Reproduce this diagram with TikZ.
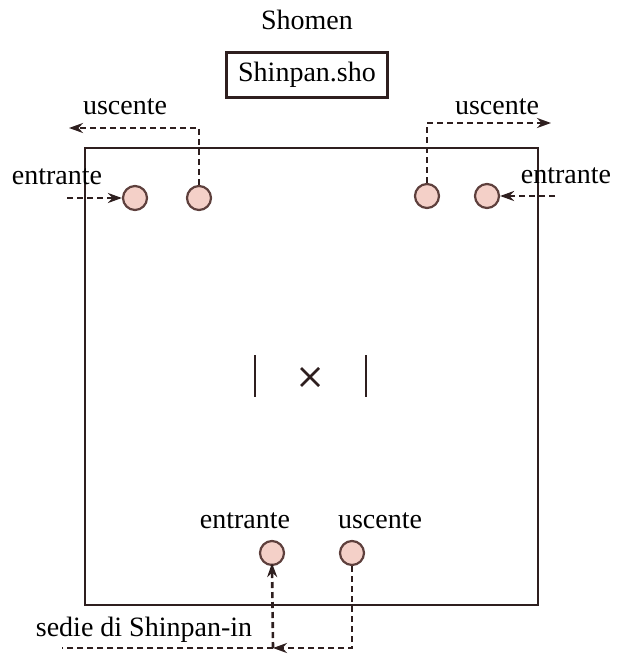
\documentclass[tikz,border=0pt]{standalone}
\usepackage{fontspec}
\setmainfont{Liberation Serif}
\usetikzlibrary{arrows.meta}
\definecolor{ink}{HTML}{2E1F1F}
\definecolor{seatfill}{HTML}{F4D0C8}
\definecolor{seatline}{HTML}{5E403D}
\begin{document}
\begin{tikzpicture}[x=1pt,y=-1pt,
  lbl/.style={font=\fontsize{28}{30}\selectfont, text=black, inner sep=0pt},
  seat/.style={circle, draw=seatline, fill=seatfill, line width=2.2pt, minimum size=24pt, inner sep=0pt},
  route/.style={dashed, dash pattern=on 6pt off 4pt, line width=2.6pt, draw=ink},
  routearrow/.style={route, -{Stealth[length=14pt,width=10pt]}},
  courtbox/.style={draw=ink, line width=2.6pt, minimum width=453pt, minimum height=457pt, inner sep=0pt},
  centremark/.style={draw=ink, line width=2.8pt}]
\useasboundingbox (0,0) rectangle (624,660);

% heading and referee chair
\node[lbl] (shomen) at (307,20) {Shomen};
\node[lbl, draw=ink, line width=2.6pt, minimum width=161pt, minimum height=45pt] (sho) at (307,75) {Shinpan.sho};

% court
\node[courtbox] (court) at (311.5,376.5) {};

% centre marks
\draw[centremark] (255,355) -- (255,397);
\draw[centremark] (366,355) -- (366,397);
\draw[centremark] (301,368) -- (319,386);
\draw[centremark] (301,386) -- (319,368);

% seats
\node[seat] (s1) at (135,198) {};
\node[seat] (s2) at (199,198) {};
\node[seat] (s3) at (427,196) {};
\node[seat] (s4) at (487,196) {};
\node[seat] (s5) at (272,553) {};
\node[seat] (s6) at (352,553) {};

% labels
\node[lbl] (lu) at (125,107) {uscente};
\node[lbl] (ru) at (497,107) {uscente};
\node[lbl] (le) at (57,177) {entrante};
\node[lbl] (re) at (566,176) {entrante};
\node[lbl] (be) at (245,521) {entrante};
\node[lbl] (bu) at (380,521) {uscente};
\node[lbl] (sedie) at (144,630) {sedie di Shinpan-in};

% path end points
\coordinate (luEnd) at (69,128);
\coordinate (ruEnd) at (551,123);
\coordinate (leStart) at (67,198);
\coordinate (reStart) at (555,196);
\coordinate (bJoin) at (273,648);
\coordinate (bEnd) at (62,648);

% upper paths
\draw[routearrow] (s2.north) |- (luEnd);
\draw[routearrow] (s3.north) |- (ruEnd);
\draw[routearrow] (leStart) -- (s1.west);
\draw[routearrow] (reStart) -- (s4.east);

% lower paths
\draw[routearrow] (s6.south) |- (bJoin);
\draw[routearrow] (bJoin) -- ([yshift=3pt]s5.south);
\draw[route] (bJoin) -- (bEnd);
\end{tikzpicture}
\end{document}
